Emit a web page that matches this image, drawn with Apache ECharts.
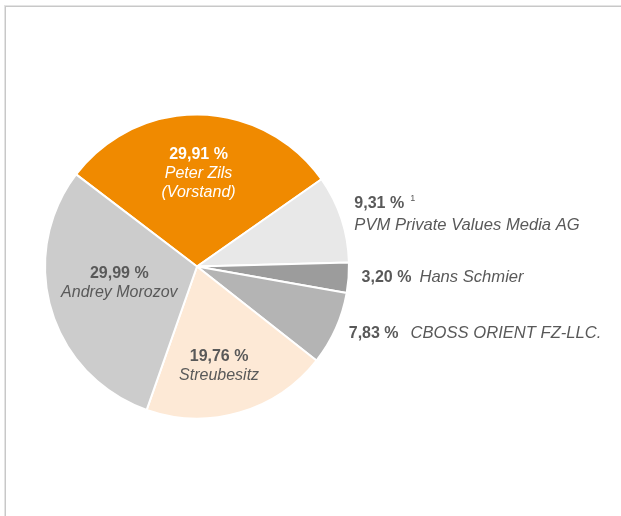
<!DOCTYPE html>
<html>
<head>
<meta charset="utf-8">
<script src="https://cdn.jsdelivr.net/npm/echarts@6/dist/echarts.min.js"></script>
<style>
  html, body { margin: 0; padding: 0; background: #fff; }
  #frame { position: absolute; left: 4px; top: 5px; right: 0; bottom: 0; border-top: 1px solid #e4e4e4; border-left: 1px solid #e4e4e4; }
  #frame-inner { position: absolute; left: 0; top: 0; right: 0; bottom: 0; border-top: 1px solid #c8c8c8; border-left: 1px solid #c8c8c8; }
  #chart { position: absolute; left: 0; top: 0; width: 621px; height: 516px; }
</style>
</head>
<body>
<div id="frame"><div id="frame-inner"></div></div>
<div id="chart"></div>
<script>
// shareholders, clockwise from the upper-left edge of the orange slice
const owners = ['Peter Zils\n(Vorstand)', 'PVM Private Values Media AG', 'Hans Schmier', 'CBOSS ORIENT FZ-LLC.', 'Streubesitz', 'Andrey Morozov'];
const shares = [29.91, 9.31, 3.20, 7.83, 19.76, 29.99];
const footnotes = ['', '1', '', '', '', ''];
const sliceColors = ['#f08a00', '#e8e8e8', '#9c9c9c', '#b4b4b4', '#fde9d6', '#cccccc'];
const insideSlice = [true, false, false, false, true, true];
// nudges of the labels from their default spot
const labelNudge = [[0, -14], [0, -3], [0, 0], [0, 5], [0, 24], [-2, -6]];

const textGrey = '#595959';
const fmtPct = (v) => v.toFixed(2).replace('.', ',') + ' %';

function labelFor(i) {
  const pct = fmtPct(shares[i]);
  const lines = owners[i].split('\n');
  if (insideSlice[i]) {
    return '{p|' + pct + '}\n' + lines.map((l) => '{n|' + l + '}').join('\n');
  }
  if (footnotes[i]) {
    return '{p|' + pct + '}{sup|' + footnotes[i] + '}\n{n2|' + lines[0] + '}';
  }
  return '{p|' + pct + '}{' + (i === 3 ? 'gap3' : 'gap2') + '|}{o|' + lines[0] + '}';
}

const chart = echarts.init(document.getElementById('chart'));

const data = shares.map((v, i) => {
  const c = insideSlice[i] && i === 0 ? '#ffffff' : textGrey;
  return {
    name: owners[i],
    value: v,
    itemStyle: { color: sliceColors[i] },
    label: {
      position: insideSlice[i] ? 'inside' : 'outside',
      align: insideSlice[i] ? 'center' : 'left',
      formatter: labelFor(i),
      rich: {
        p: { fontFamily: 'Liberation Sans', fontWeight: 'bold', fontSize: 16, color: c, lineHeight: 19 },
        n: { fontFamily: 'Liberation Sans', fontStyle: 'italic', fontSize: 16, color: c, lineHeight: 19 },
        o: { fontFamily: 'Liberation Sans', fontStyle: 'italic', fontSize: 16.6, color: c, lineHeight: 19 },
        n2: { fontFamily: 'Liberation Sans', fontStyle: 'italic', fontSize: 16.6, color: c, lineHeight: 24 },
        gap2: { width: 8 },
        gap3: { width: 12 },
        sup: { fontFamily: 'Liberation Sans', fontSize: 9, color: c, verticalAlign: 'top', padding: [0, 0, 6, 6] }
      }
    }
  };
});

chart.setOption({
  animation: false,
  series: [{
    type: 'pie',
    center: [197, 266.5],
    radius: 152,
    startAngle: 142.7,
    clockwise: true,
    avoidLabelOverlap: false,
    itemStyle: { borderColor: '#ffffff', borderWidth: 2 },
    label: { show: true, distanceToLabelLine: 5 },
    labelLine: { show: false, length: 0, length2: 8 },
    labelLayout: (params) => ({ dx: labelNudge[params.dataIndex][0], dy: labelNudge[params.dataIndex][1] }),
    emphasis: { disabled: true },
    data: data
  }]
});
</script>
</body>
</html>
